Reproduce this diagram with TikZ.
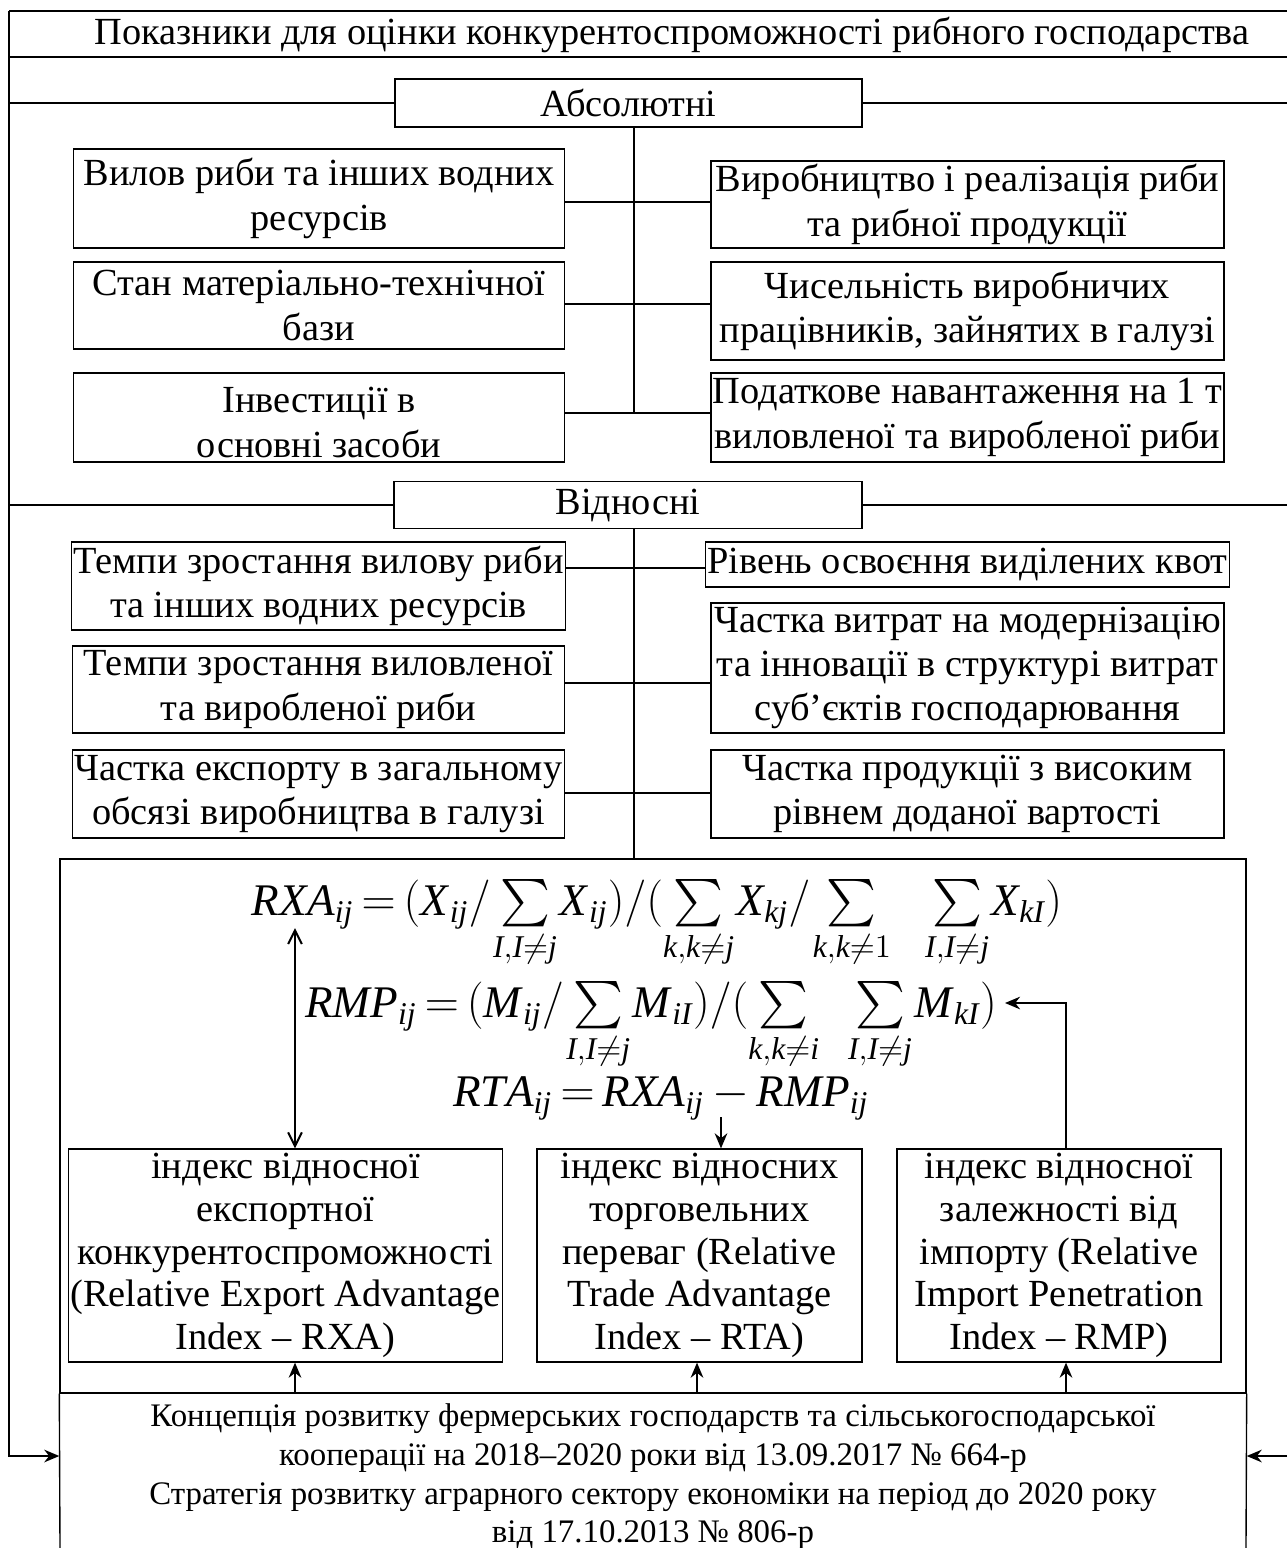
\documentclass[tikz,border=0pt]{standalone}
\usepackage{fontspec}
\usepackage{exscale}
\setmainfont{Liberation Serif}
\usetikzlibrary{arrows.meta,calc}
\newcommand{\fv}[1]{\mathit{#1}}

\begin{document}
\begin{tikzpicture}[x=0.365pt,y=-0.365pt,line width=0.5pt,inner sep=0.6pt,
  font=\fontsize{14}{16.2}\selectfont,
  box/.style={draw,align=center},
  lbox/.style={box,minimum width=179.4pt},
  rbox/.style={box,minimum width=187.2pt},
  gbox/.style={box,minimum height=77.7pt,font=\fontsize{14}{15.6}\selectfont},
  frm/.style={anchor=base,font={\fontsize{16.5}{20}\selectfont\thickmuskip=3mu\medmuskip=3mu\thinmuskip=1mu}},
  arr/.style={line width=0.75pt,-{Stealth[length=5.5pt,width=4.6pt]}}]
\useasboundingbox (0,0) rectangle (1287,1548);
\coordinate (o) at (9,11);
\coordinate (e) at (1287,11);
\draw (o) -- (e);
\node (t) at (672,35) {Показники для оцінки конкурентоспроможності рибного господарства};
\draw (o|-0,57) -- (e|-0,57);
\node[box,minimum width=170.5pt,minimum height=17.5pt] (abs) at (628.5,103) {Абсолютні};
\draw (abs.west) -- (abs.west-|o);
\draw (abs.east) -- (abs.east-|e);
\node[lbox,minimum height=36.1pt] (a1) at (319,198.5) {Вилов риби та інших водних\\ресурсів};
\node[lbox,minimum height=31.8pt] (a2) at (319,305.5) {Стан матеріально-технічної\\бази};
\node[lbox,minimum height=32.5pt] (a3) at (319,417.5) {\rule{0pt}{13pt}Інвестиції в\\основні засоби};
\node[rbox,minimum height=31.8pt] (b1) at (967.5,204.5) {Виробництво і реалізація риби\\та рибної продукції};
\node[rbox,minimum height=35.8pt] (b2) at (967.5,311) {Чисельність виробничих\\працівників, зайнятих в галузі};
\node[rbox,minimum height=32.5pt] (b3) at (967.5,417.5) {Податкове навантаження на 1 т\\виловленої та виробленої риби};
\coordinate (s1) at (634,202);
\coordinate (s2) at (634,304);
\coordinate (s3) at (634,413);
\draw (abs.south-|s1) -- (s3);
\draw (a1.east|-s1) -- (b1.west|-s1);
\draw (a2.east|-s2) -- (b2.west|-s2);
\draw (a3.east|-s3) -- (b3.west|-s3);
\node[box,minimum width=170.8pt,minimum height=17.2pt] (rel) at (628,505) {Відносні};
\draw (rel.west) -- (rel.west-|o);
\draw (rel.east) -- (rel.east-|e);
\node[lbox,minimum height=32.1pt] (c1) at (318.5,586) {Темпи зростання вилову риби\\та інших водних ресурсів};
\node[lbox,minimum height=31.8pt] (c2) at (318.5,689.5) {Темпи зростання виловленої\\та виробленої риби};
\node[lbox,minimum height=32.1pt] (c3) at (318.5,794) {Частка експорту в загальному\\обсязі виробництва в галузі};
\node[rbox,minimum height=16.4pt] (d1) at (967.5,564.5) {Рівень освоєння виділених квот};
\node[rbox,minimum height=47.5pt] (d2) at (967.5,668) {Частка витрат на модернізацію\\та інновації в структурі витрат\\суб’єктів господарювання};
\node[rbox,minimum height=32.1pt] (d3) at (967.5,794) {Частка продукції з високим\\рівнем доданої вартості};
\coordinate (p1) at (634,568);
\coordinate (p2) at (634,683);
\coordinate (p3) at (634,793);
\draw (c1.east|-p1) -- (d1.west|-p1);
\draw (c2.east|-p2) -- (d2.west|-p2);
\draw (c3.east|-p3) -- (d3.west|-p3);
\node[draw,minimum width=432.9pt,minimum height=194.9pt] (f) at (653,1126) {};
\draw (rel.south-|p1) -- (p1|-f.north);
\node[frm] (fx) at (657,915)
  {$\fv{RXA}_{\fv{ij}}=(\fv{X}_{\,\fv{ij}}/\sum\limits_{\fv{I,I}\neq \fv{j}}\fv{X}_{\,\fv{ij}})/(\sum\limits_{\fv{k,k}\neq \fv{j}}\fv{X}_{\fv{kj}}/\sum\limits_{\fv{k,k}\neq 1}\mkern12mu\sum\limits_{\fv{I,I}\neq \fv{j}}\fv{X}_{\fv{kI}})$};
\node[frm] (fm) at (651,1017)
  {$\fv{RMP}_{\fv{ij}}=(\fv{M}_{\,\fv{ij}}/\sum\limits_{\fv{I,I}\neq \fv{j}}\fv{M}_{\,\fv{iI}})/(\sum\limits_{\fv{k,k}\neq \fv{i}}\mkern10mu\sum\limits_{\fv{I,I}\neq \fv{j}}\fv{M}_{\,\fv{kI}})$};
\node[frm] (ft) at (661,1106)
  {$\fv{RTA}_{\fv{ij}}=\fv{RXA}_{\fv{ij}}-\fv{RMP}_{\fv{ij}}$};
\node[gbox,minimum width=154.4pt] (g1) at (285.5,1255.5) {індекс відносної\\експортної\\конкурентоспроможності\\(Relative Export Advantage\\Index – RXA)};
\node[gbox,minimum width=118.6pt] (g2) at (699.5,1255.5) {індекс відносних\\торговельних\\переваг (Relative\\Trade Advantage\\Index – RTA)};
\node[gbox,minimum width=118.3pt] (g3) at (1059,1255.5) {індекс відносної\\залежності від\\імпорту (Relative\\Import Penetration\\Index – RMP)};
\coordinate (h1) at (295,928);
\coordinate (h2) at (721,1117);
\coordinate (h3) at (1066,1003);
\coordinate (h4) at (1005,1003);
\coordinate (h5) at (697,1393);
\draw[line width=0.75pt,{Straight Barb[length=5pt,width=5pt]}-{Straight Barb[length=5pt,width=5pt]}] (h1) -- (h1|-g1.north);
\draw[arr] (h2) -- (h2|-g2.north);
\draw[arr] (h3|-g3.north) -- (h3) -- (h4);
\draw[arr] (h1|-f.south) -- (h1|-g1.south);
\draw[arr] (h5) -- (h5|-g2.south);
\draw[arr] (h3|-f.south) -- (h3|-g3.south);
\draw (f.south west) -- (60,1548);
\draw (f.south east) -- (1246,1548);
\node[font=\fontsize{12}{14.1}\selectfont,align=center] (k) at (653,1477) {Концепція розвитку фермерських господарств та сільськогосподарської\\кооперації на 2018–2020 роки від 13.09.2017 № 664-р\\Стратегія розвитку аграрного сектору економіки на період до 2020 року\\від 17.10.2013 № 806-р};
\coordinate (w) at (9,1456);
\coordinate (v) at (1287,1456);
\draw[arr] (o) -- (w) -- (w-|f.west);
\draw[arr] (v) -- (v-|f.east);
\end{tikzpicture}
\end{document}
